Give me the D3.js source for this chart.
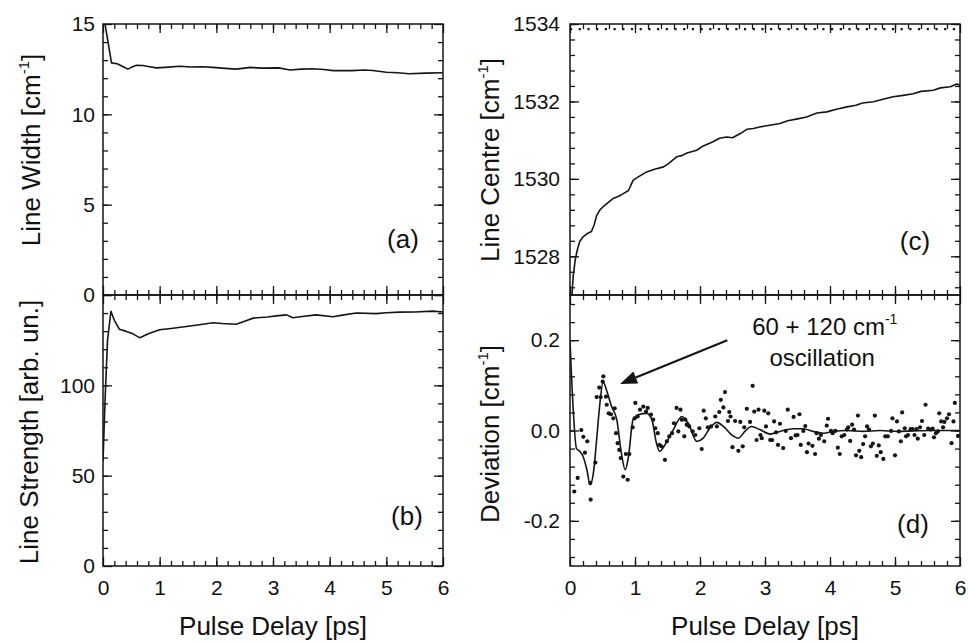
<!DOCTYPE html>
<html>
<head>
<meta charset="utf-8">
<script src="https://cdn.jsdelivr.net/npm/d3@7"></script>
<style>
  body { margin: 0; background: #fff; }
  svg text { font-family: "Liberation Sans", Arial, Helvetica, sans-serif; fill: #111; }
</style>
</head>
<body>
<div id="chart"></div>
<script>

// (a) line width [cm-1] vs pulse delay [ps]
var widthData = [[0.02,15.3],[0.15,12.85],[0.25,12.8],[0.35,12.65],[0.44,12.5],[0.5,12.6],[0.59,12.72],[0.7,12.7],
  [0.8,12.65],[0.94,12.57],[1.1,12.6],[1.35,12.66],[1.55,12.62],[1.75,12.63],[1.94,12.6],[2.1,12.56],[2.35,12.5],
  [2.6,12.6],[2.8,12.56],[3.1,12.57],[3.3,12.45],[3.5,12.5],[3.7,12.52],[3.9,12.48],[4.06,12.42],[4.4,12.42],
  [4.6,12.45],[4.76,12.43],[5.0,12.33],[5.2,12.3],[5.4,12.25],[5.7,12.28],[6.0,12.3]];

// (b) line strength [arb. un.]
var strengthData = [[0,58],[0.04,95],[0.08,125],[0.14,141],[0.2,136],[0.29,131],[0.4,130],[0.53,128.5],[0.65,126.3],
  [0.8,128.5],[1.0,130.8],[1.2,131.5],[1.47,132.6],[1.7,133.5],[1.94,134.6],[2.1,134.2],[2.35,133.8],[2.5,135.5],
  [2.65,137.2],[2.9,137.8],[3.1,138.6],[3.24,139],[3.35,137.4],[3.55,138.2],[3.76,139],[4.06,138],[4.25,139],
  [4.47,140],[4.82,139.7],[5.0,140.2],[5.24,140.5],[5.5,140.6],[5.82,141.1],[6.0,140.6]];

// (c) line centre [cm-1]
var centreData = [[0.03,1527.0],[0.05,1527.5],[0.08,1527.9],[0.11,1528.15],[0.15,1528.38],[0.2,1528.5],[0.26,1528.58],
  [0.33,1528.64],[0.37,1528.8],[0.41,1529.05],[0.46,1529.2],[0.51,1529.28],[0.58,1529.38],[0.67,1529.5],[0.75,1529.55],
  [0.82,1529.62],[0.9,1529.7],[0.97,1529.96],[1.05,1530.05],[1.18,1530.18],[1.3,1530.25],[1.44,1530.31],[1.52,1530.4],
  [1.64,1530.57],[1.72,1530.6],[1.8,1530.67],[1.95,1530.74],[2.05,1530.85],[2.2,1530.96],[2.3,1531.05],[2.41,1531.08],
  [2.5,1531.06],[2.62,1531.17],[2.72,1531.28],[2.82,1531.3],[2.95,1531.35],[3.05,1531.38],[3.23,1531.43],[3.35,1531.5],
  [3.5,1531.55],[3.64,1531.6],[3.8,1531.7],[3.95,1531.73],[4.1,1531.8],[4.26,1531.86],[4.4,1531.9],[4.5,1531.96],
  [4.67,1531.99],[4.8,1532.05],[4.97,1532.12],[5.1,1532.15],[5.28,1532.2],[5.4,1532.26],[5.59,1532.29],[5.7,1532.35],
  [5.85,1532.38],[5.95,1532.45],[6.0,1532.42]];
var centreRef = 1533.87;   // dotted reference level in (c)

// (d) deviation [cm-1]: fitted 60 + 120 cm-1 oscillation and residual points
var fitData = [[0,0.196],[0.03,0.1],[0.1,-0.04],[0.15,-0.046],[0.2,-0.057],[0.26,-0.087],[0.31,-0.12],[0.36,-0.094],
  [0.41,-0.02],[0.46,0.06],[0.51,0.108],[0.56,0.09],[0.64,0.053],[0.72,0.024],[0.79,-0.05],[0.85,-0.087],[0.9,-0.057],
  [0.97,0.024],[1.05,0.035],[1.18,0.038],[1.26,0.024],[1.33,-0.028],[1.38,-0.046],[1.46,-0.032],[1.59,0.002],
  [1.72,0.031],[1.82,0.016],[1.95,-0.024],[2.05,-0.017],[2.15,0.005],[2.26,0.018],[2.36,0.009],[2.49,-0.01],
  [2.59,-0.017],[2.69,-0.002],[2.79,0.009],[2.92,0.002],[3.08,-0.008],[3.23,-0.002],[3.44,0.004],[3.59,0.004],
  [3.74,-0.002],[3.9,-0.006],[4.05,-0.002],[4.26,0],[4.51,-0.002],[4.77,0],[5.03,-0.002],[5.28,-0.001],[5.54,0],[6,0]];

var devPoints = [[0.066,-0.135],[0.118,-0.105],[0.174,0.001],[0.205,-0.014],[0.23,-0.049],[0.266,-0.024],[0.313,-0.116],
  [0.318,-0.153],[0.39,-0.071],[0.41,0.074],[0.45,0.095],[0.472,0.074],[0.503,0.108],[0.513,0.12],[0.554,0.075],
  [0.565,0.057],[0.595,0.038],[0.63,0.036],[0.666,0.027],[0.687,0.049],[0.708,-0.006],[0.733,-0.028],[0.758,-0.043],
  [0.78,-0.061],[0.82,-0.102],[0.86,-0.052],[0.887,-0.109],[0.913,-0.052],[0.964,0.007],[0.995,0.027],[1.005,0.061],
  [1.04,0.031],[1.077,0.046],[1.128,0.053],[1.17,0.042],[1.195,0.05],[1.246,0.035],[1.28,0.024],[1.313,0.005],
  [1.35,-0.006],[1.374,-0.032],[1.405,-0.035],[1.46,-0.065],[1.49,-0.024],[1.527,-0.013],[1.57,-0.006],[1.6,0.016],
  [1.64,0.05],[1.666,-0.002],[1.7,0.046],[1.72,0.024],[1.758,-0.013],[1.774,0.024],[1.795,0.013],[1.835,0.009],
  [1.887,-0.002],[1.927,-0.01],[1.99,0.005],[2.026,-0.041],[2.057,0.044],[2.09,0.027],[2.12,0.007],[2.17,0.009],
  [2.235,0.031],[2.26,0.009],[2.297,0.041],[2.32,0.068],[2.36,0.051],[2.385,0.085],[2.43,0.021],[2.45,0.041],
  [2.47,0.031],[2.5,-0.037],[2.54,0.021],[2.59,-0.045],[2.62,0.019],[2.657,-0.035],[2.68,0.007],[2.72,0.048],
  [2.77,0.019],[2.81,0.099],[2.835,0.042],[2.87,-0.021],[2.9,0.046],[2.93,-0.01],[2.95,-0.017],[2.99,0.044],
  [3.015,0.009],[3.05,0.038],[3.08,-0.021],[3.11,-0.021],[3.14,0.02],[3.17,-0.004],[3.2,-0.032],[3.23,0.015],
  [3.28,-0.039],[3.32,-0.001],[3.35,0.046],[3.4,-0.017],[3.44,0.03],[3.47,-0.011],[3.5,-0.01],[3.53,0.036],
  [3.55,-0.032],[3.59,-0.001],[3.62,0.01],[3.645,-0.048],[3.67,-0.029],[3.73,-0.034],[3.77,-0.052],[3.795,-0.006],
  [3.83,-0.018],[3.86,-0.01],[3.91,-0.024],[3.95,0.011],[3.97,0.026],[4.015,-0.001],[4.04,-0.006],[4.08,-0.001],
  [4.12,-0.038],[4.15,-0.052],[4.18,-0.013],[4.22,-0.01],[4.26,0.002],[4.28,0.007],[4.31,-0.023],[4.34,0.013],
  [4.37,0.002],[4.4,-0.055],[4.43,0.033],[4.45,-0.045],[4.48,-0.059],[4.51,-0.03],[4.54,-0.013],[4.57,0.009],
  [4.6,0.002],[4.63,-0.035],[4.66,-0.029],[4.69,0.033],[4.72,-0.056],[4.75,-0.033],[4.78,-0.048],[4.82,-0.063],
  [4.85,-0.013],[4.89,-0.013],[4.94,-0.001],[4.96,0.027],[5.0,-0.055],[5.03,0.02],[5.06,-0.002],[5.09,-0.024],
  [5.11,0.04],[5.15,0.005],[5.17,-0.013],[5.2,-0.01],[5.24,0.003],[5.27,0.003],[5.3,-0.01],[5.33,0.003],
  [5.35,-0.018],[5.385,0.007],[5.415,0.021],[5.45,-0.01],[5.47,0.057],[5.51,0.004],[5.55,0.002],[5.58,0.004],
  [5.6,-0.015],[5.63,-0.006],[5.66,-0.002],[5.68,0.038],[5.71,0.02],[5.74,0.007],[5.76,0.019],[5.8,0.027],
  [5.83,0.036],[5.87,-0.028],[5.9,0.02],[5.92,0.061],[5.97,-0.012]];

var xTicks = [0, 1, 2, 3, 4, 5, 6];

var W = 968, H = 642;
var ink = "#151515";

var svg = d3.select("#chart").append("svg")
    .attr("width", W)
    .attr("height", H);

var clipId = 0;

function axis(gen, vals, size, transform, fmt, pad) {
    var ax = gen.tickValues(vals).tickSizeInner(-size).tickSizeOuter(0).tickPadding(pad || 8);
    ax.tickFormat(fmt || "");
    var g = svg.append("g")
        .attr("transform", transform)
        .call(ax);
    // axis() puts its own font on the group, so override afterwards
    g.attr("font-family", null).attr("font-size", 21);
    g.select(".domain").remove();
    g.selectAll(".tick line").attr("stroke", ink).attr("stroke-width", 1.3);
    g.selectAll(".tick text").attr("fill", ink);
    return g;
}

function minorRange(lo, hi, step) {
    return d3.range(lo, hi + step / 2, step);
}

function panel(o) {
    var x = d3.scaleLinear().domain([0, 6]).range([o.x0, o.x1]);
    var y = d3.scaleLinear().domain(o.yDomain).range([o.y1, o.y0]);

    var id = "clip" + (clipId++);
    svg.append("clipPath").attr("id", id)
        .append("rect")
        .attr("x", o.x0).attr("y", o.y0)
        .attr("width", o.x1 - o.x0).attr("height", o.y1 - o.y0);

    // ticks: minor then major, on all four sides, pointing inward
    var xMinor = minorRange(0.2, 5.8, 0.2);
    axis(d3.axisTop(x), xMinor, 5, "translate(0," + o.y0 + ")");
    axis(d3.axisTop(x), xTicks, 9, "translate(0," + o.y0 + ")");
    axis(d3.axisBottom(x), xMinor, 5, "translate(0," + o.y1 + ")");
    axis(d3.axisBottom(x), xTicks, 9, "translate(0," + o.y1 + ")",
        o.xLabels ? d3.format("d") : "", 14);

    axis(d3.axisLeft(y), o.yMinor, 5, "translate(" + o.x0 + ",0)");
    axis(d3.axisLeft(y), o.yMajor, 9, "translate(" + o.x0 + ",0)", o.yFormat, o.yPad);
    axis(d3.axisRight(y), o.yMinor, 5, "translate(" + o.x1 + ",0)");
    axis(d3.axisRight(y), o.yMajor, 9, "translate(" + o.x1 + ",0)");

    // frame
    svg.append("rect")
        .attr("x", o.x0).attr("y", o.y0)
        .attr("width", o.x1 - o.x0).attr("height", o.y1 - o.y0)
        .attr("fill", "none").attr("stroke", ink).attr("stroke-width", 1.5);

    var plot = svg.append("g").attr("clip-path", "url(#" + id + ")");

    // panel letter
    svg.append("text")
        .attr("x", o.x1 - o.tag[1])
        .attr("y", o.y1 - o.tag[2])
        .attr("text-anchor", "middle")
        .attr("font-size", 26)
        .text(o.tag[0]);

    // rotated y title with superscript
    var t = svg.append("text")
        .attr("transform", "translate(" + o.titleX + "," + o.titleY + ") rotate(-90)")
        .attr("text-anchor", "middle")
        .attr("font-size", 26);
    t.append("tspan").text(o.title[0]);
    if (o.title.length > 1) {
        t.append("tspan").attr("font-size", 15).attr("dy", -11).text(o.title[1]);
        t.append("tspan").attr("dy", 11).text(o.title[2]);
    }

    return { x: x, y: y, plot: plot };
}

function drawLine(p, data, curve) {
    p.plot.append("path")
        .datum(data)
        .attr("fill", "none")
        .attr("stroke", ink)
        .attr("stroke-width", 1.6)
        .attr("stroke-linejoin", "round")
        .attr("d", d3.line()
            .x(function(d) { return p.x(d[0]); })
            .y(function(d) { return p.y(d[1]); })
            .curve(curve || d3.curveLinear));
}

function xTitle(cx) {
    svg.append("text")
        .attr("x", cx).attr("y", 635)
        .attr("text-anchor", "middle")
        .attr("font-size", 26)
        .text("Pulse Delay [ps]");
}

var L = { x0: 103, x1: 443 }, R = { x0: 570, x1: 960 };
var T = { y0: 24, y1: 295 }, B = { y0: 295, y1: 566 };

var pa = panel({
    x0: L.x0, x1: L.x1, y0: T.y0, y1: T.y1,
    yDomain: [0, 15], yMajor: [0, 5, 10, 15], yMinor: minorRange(1, 14, 1),
    yFormat: d3.format("d"), yPad: 8,
    tag: ["(a)", 40, 47],
    title: ["Line Width [cm", "-1", "]"], titleX: 40, titleY: 150
});
drawLine(pa, widthData);

var pb = panel({
    x0: L.x0, x1: L.x1, y0: B.y0, y1: B.y1,
    yDomain: [0, 150], yMajor: [0, 50, 100, 150], yMinor: minorRange(10, 140, 10),
    yFormat: function(d) { return d === 150 ? "" : d; }, yPad: 8,
    xLabels: true,
    tag: ["(b)", 36, 41],
    title: ["Line Strength [arb. un.]"], titleX: 38, titleY: 432
});
drawLine(pb, strengthData);

var pc = panel({
    x0: R.x0, x1: R.x1, y0: T.y0, y1: T.y1,
    yDomain: [1527, 1534], yMajor: [1528, 1530, 1532, 1534], yMinor: minorRange(1527.2, 1534, 0.4),
    yFormat: d3.format("d"), yPad: 10,
    tag: ["(c)", 45, 45],
    title: ["Line Centre [cm", "-1", "]"], titleX: 499, titleY: 160
});
drawLine(pc, centreData);
pc.plot.append("line")
    .attr("x1", pc.x(0)).attr("x2", pc.x(6))
    .attr("y1", pc.y(centreRef)).attr("y2", pc.y(centreRef))
    .attr("stroke", ink)
    .attr("stroke-width", 2.2)
    .attr("stroke-dasharray", "2.2,6.5");

var pd = panel({
    x0: R.x0, x1: R.x1, y0: B.y0, y1: B.y1,
    yDomain: [-0.3, 0.3], yMajor: [-0.2, 0, 0.2], yMinor: minorRange(-0.28, 0.28, 0.04),
    yFormat: function(d) { return d.toFixed(1); }, yPad: 10,
    xLabels: true,
    tag: ["(d)", 47, 33],
    title: ["Deviation [cm", "-1", "]"], titleX: 499, titleY: 434
});
drawLine(pd, fitData, d3.curveMonotoneX);
pd.plot.selectAll("circle.pt")
    .data(devPoints)
    .enter().append("circle")
    .attr("class", "pt")
    .attr("cx", function(d) { return pd.x(d[0]); })
    .attr("cy", function(d) { return pd.y(d[1]); })
    .attr("r", 2.1)
    .attr("fill", ink);

// annotation arrow and text in (d)
var tail = [pd.x(2.42), pd.y(0.2)], tip = [pd.x(0.77), pd.y(0.103)];
var ang = Math.atan2(tip[1] - tail[1], tip[0] - tail[0]);
var hl = 17, hw = 6.5;
var base = [tip[0] - hl * Math.cos(ang), tip[1] - hl * Math.sin(ang)];
svg.append("line")
    .attr("x1", tail[0]).attr("y1", tail[1])
    .attr("x2", base[0]).attr("y2", base[1])
    .attr("stroke", ink).attr("stroke-width", 2.2);
svg.append("path")
    .attr("d", "M" + tip + "L" + [base[0] + hw * Math.sin(ang), base[1] - hw * Math.cos(ang)] +
        "L" + [base[0] - hw * Math.sin(ang), base[1] + hw * Math.cos(ang)] + "Z")
    .attr("fill", ink);

var ann = svg.append("text")
    .attr("x", pd.x(3.92)).attr("y", 335)
    .attr("text-anchor", "middle")
    .attr("font-size", 24);
ann.append("tspan").text("60 + 120 cm");
ann.append("tspan").attr("font-size", 14).attr("dy", -11).text("-1");
svg.append("text")
    .attr("x", pd.x(3.88)).attr("y", 366)
    .attr("text-anchor", "middle")
    .attr("font-size", 24)
    .text("oscillation");

xTitle((L.x0 + L.x1) / 2);
xTitle((R.x0 + R.x1) / 2);

</script>
</body>
</html>
